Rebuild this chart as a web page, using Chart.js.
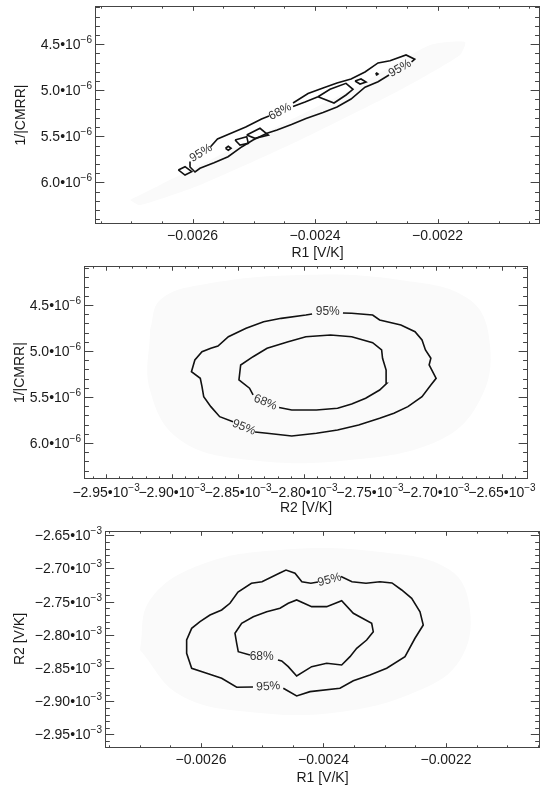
<!DOCTYPE html>
<html>
<head>
<meta charset="utf-8">
<script src="https://cdn.jsdelivr.net/npm/chart.js@4.4.0/dist/chart.umd.min.js"></script>
<style>
  body { margin: 0; background: #fff; }
  .panel { position: absolute; left: 0; width: 550px; }
</style>
</head>
<body>
<div class="panel" style="top:0px"><canvas id="chart1" width="550" height="262"></canvas></div>
<div class="panel" style="top:262px"><canvas id="chart2" width="550" height="258"></canvas></div>
<div class="panel" style="top:520px"><canvas id="chart3" width="550" height="267"></canvas></div>
<script>
// units: R1, R2 in 1e-3 V/K, 1/|CMRR| in 1e-6
const r1Ticks = [-2.6, -2.4, -2.2];
const r2Ticks = [-2.95, -2.90, -2.85, -2.80, -2.75, -2.70, -2.65];
const cmrrTicks = [4.5, 5.0, 5.5, 6.0];

// ---- panel 1 : 1/|CMRR| vs R1 ----
const p1UpperLeftX = [-2.5706, -2.5592, -2.5362, -2.5131, -2.4873, -2.4751];
const p1UpperLeftY = [5.613, 5.529, 5.464, 5.399, 5.312, 5.279];
const p1UpperRightX = [-2.4359, -2.4114, -2.3869, -2.3641, -2.3412, -2.3184, -2.2971, -2.2776, -2.2514, -2.2372, -2.2424];
const p1UpperRightY = [5.138, 5.035, 4.975, 4.921, 4.877, 4.801, 4.703, 4.678, 4.616, 4.663, 4.692];
const p1InnerTopX = [-2.4359, -2.4163, -2.3951];
const p1InnerTopY = [5.176, 5.127, 5.070];
const p1LowerX = [-2.2792, -2.2971, -2.3184, -2.3412, -2.3641, -2.3869, -2.4147, -2.4384, -2.4620, -2.4784, -2.5012, -2.5192, -2.5420, -2.5649, -2.5878, -2.5959, -2.6041, -2.6041];
const p1LowerY = [4.834, 4.907, 4.967, 5.095, 5.182, 5.241, 5.307, 5.372, 5.432, 5.467, 5.540, 5.613, 5.722, 5.787, 5.848, 5.888, 5.834, 5.774];
const p1InnerX = [-2.3951, -2.3755, -2.3494, -2.3380, -2.3494, -2.3690, -2.3951];
const p1InnerY = [5.070, 4.989, 4.924, 4.989, 5.051, 5.138, 5.070];
const p1IslandAX = [-2.5115, -2.4898, -2.4762, -2.4980, -2.5115];
const p1IslandAY = [5.486, 5.413, 5.486, 5.522, 5.486];
const p1IslandBX = [-2.5306, -2.5115, -2.5089, -2.5225, -2.5306];
const p1IslandBY = [5.540, 5.504, 5.576, 5.595, 5.540];
const p1IslandCX = [-2.5461, -2.5416, -2.5371, -2.5416, -2.5461];
const p1IslandCY = [5.630, 5.609, 5.630, 5.652, 5.630];
const p1IslandDX = [-2.6232, -2.6122, -2.6013, -2.6122, -2.6232];
const p1IslandDY = [5.866, 5.830, 5.885, 5.921, 5.866];
const p1IslandEX = [-2.3347, -2.3249, -2.3167, -2.3265, -2.3347];
const p1IslandEY = [4.899, 4.877, 4.910, 4.932, 4.899];
const p1IslandFX = [-2.3012, -2.2993, -2.2971, -2.2993, -2.3012];
const p1IslandFY = [4.823, 4.812, 4.823, 4.834, 4.823];
const p1HazeX = [-2.7020, -2.6531, -2.5061, -2.3429, -2.2122, -2.1551, -2.1633, -2.2612, -2.4245, -2.5878, -2.6857];
const p1HazeY = [6.192, 6.029, 5.540, 4.997, 4.508, 4.475, 4.616, 4.997, 5.540, 6.029, 6.247];
const p1LabelText = ['95%', '68%', '95%'];
const p1LabelX = [-2.5861, -2.4571, -2.2612];
const p1LabelY = [5.682, 5.233, 4.763];
const p1LabelAngle = [-32, -28, -30];

// ---- panel 2 : 1/|CMRR| vs R2 ----
const p2OuterAX = [-2.7705, -2.7639, -2.7480, -2.7427, -2.7266, -2.7159, -2.7106, -2.7080, -2.7039, -2.7052, -2.6999, -2.7039, -2.7106, -2.7213, -2.7319, -2.7427, -2.7586, -2.7746, -2.7906, -2.8093, -2.8280, -2.8371];
const p2OuterAY = [4.587, 4.590, 4.609, 4.663, 4.717, 4.790, 4.880, 4.989, 5.079, 5.152, 5.297, 5.370, 5.497, 5.605, 5.677, 5.732, 5.804, 5.859, 5.895, 5.924, 5.895, 5.880];
const p2OuterBX = [-2.8538, -2.8639, -2.8706, -2.8760, -2.8773, -2.8786, -2.8853, -2.8827, -2.8773, -2.8706, -2.8652, -2.8573, -2.8439, -2.8306, -2.8173, -2.7986, -2.7939];
const p2OuterBY = [5.769, 5.714, 5.605, 5.497, 5.388, 5.297, 5.225, 5.098, 5.008, 4.971, 4.946, 4.845, 4.753, 4.682, 4.645, 4.609, 4.598];
const p2InnerX = [-2.8189, -2.8093, -2.7906, -2.7746, -2.7639, -2.7533, -2.7427, -2.7373, -2.7378, -2.7405, -2.7412, -2.7480, -2.7639, -2.7799, -2.7986, -2.8120, -2.8280, -2.8386, -2.8480, -2.8493, -2.8413, -2.8386];
const p2InnerY = [5.614, 5.641, 5.641, 5.623, 5.576, 5.514, 5.424, 5.351, 5.207, 5.079, 4.989, 4.910, 4.845, 4.826, 4.845, 4.899, 4.971, 5.062, 5.152, 5.315, 5.405, 5.478];
const p2HazeX = [-2.9167, -2.9091, -2.8788, -2.8030, -2.7273, -2.6742, -2.6591, -2.6667, -2.6970, -2.7652, -2.8409, -2.8939, -2.9167];
const p2HazeY = [4.772, 4.446, 4.283, 4.174, 4.228, 4.446, 4.935, 5.533, 5.967, 6.185, 6.185, 5.967, 5.424];
const p2LabelText = ['95%', '95%', '68%'];
const p2LabelX = [-2.7820, -2.8455, -2.8293];
const p2LabelY = [4.573, 5.832, 5.560];
const p2LabelAngle = [0, 22, 22];

// ---- panel 3 : R2 vs R1 ----
const p3OuterAX = [-2.3714, -2.3535, -2.3306, -2.3078, -2.2882, -2.2723, -2.2560, -2.2424, -2.2371, -2.2506, -2.2669, -2.2968, -2.3241, -2.3513, -2.3731, -2.4220, -2.4438, -2.4656];
const p3OuterAY = [-2.7120, -2.7199, -2.7223, -2.7199, -2.7218, -2.7324, -2.7449, -2.7651, -2.7851, -2.8051, -2.8328, -2.8503, -2.8604, -2.8690, -2.8804, -2.8855, -2.8920, -2.8804];
const p3OuterBX = [-2.5151, -2.5417, -2.5662, -2.5907, -2.6152, -2.6234, -2.6234, -2.6152, -2.6016, -2.5853, -2.5662, -2.5527, -2.5396, -2.5176, -2.5004, -2.4722, -2.4612, -2.4465, -2.4353, -2.4206, -2.4090];
const p3OuterBY = [-2.8785, -2.8789, -2.8654, -2.8578, -2.8503, -2.8277, -2.8077, -2.7901, -2.7801, -2.7700, -2.7625, -2.7524, -2.7354, -2.7223, -2.7199, -2.7072, -2.7023, -2.7072, -2.7199, -2.7223, -2.7203];
const p3InnerX = [-2.4743, -2.4682, -2.4575, -2.4438, -2.4193, -2.3948, -2.3703, -2.3567, -2.3458, -2.3295, -2.3187, -2.3213, -2.3513, -2.3703, -2.3948, -2.4193, -2.4438, -2.4575, -2.4710, -2.4927, -2.5146, -2.5336, -2.5445, -2.5417, -2.5391, -2.5200];
const p3InnerY = [-2.8378, -2.8393, -2.8479, -2.8619, -2.8479, -2.8428, -2.8453, -2.8328, -2.8202, -2.8077, -2.7952, -2.7825, -2.7675, -2.7485, -2.7575, -2.7575, -2.7474, -2.7524, -2.7599, -2.7651, -2.7726, -2.7825, -2.7976, -2.8127, -2.8253, -2.8303];
const p3HazeX = [-2.6996, -2.6833, -2.6016, -2.4710, -2.3078, -2.1935, -2.1608, -2.1771, -2.2424, -2.3731, -2.5200, -2.6343];
const p3HazeY = [-2.8227, -2.7474, -2.6947, -2.6721, -2.6752, -2.7023, -2.7625, -2.8378, -2.8830, -2.9161, -2.9161, -2.8905];
const p3LabelText = ['95%', '95%', '68%'];
const p3LabelX = [-2.3902, -2.4901, -2.5009];
const p3LabelY = [-2.7173, -2.8777, -2.8328];
const p3LabelAngle = [-15, -4, 0];

const FONT = "'Liberation Sans', Arial, Helvetica, sans-serif";

function pts(xs, ys) { return xs.map((x, i) => ({ x: x, y: ys[i] })); }

function contour(xs, ys) {
  return { data: pts(xs, ys), showLine: true, borderColor: '#111', borderWidth: 1.6,
           pointRadius: 0, fill: false, tension: 0 };
}
function haze(xs, ys, tension) {
  return { data: pts(xs.concat(xs[0]), ys.concat(ys[0])), showLine: true, borderWidth: 0,
           borderColor: 'rgba(0,0,0,0)', backgroundColor: '#fafafa', pointRadius: 0,
           fill: 'shape', tension: tension, order: 5 };
}

function r1Label(v) { return '\u2212' + (Math.abs(v) / 1000).toFixed(4); }
function cmrrLabel(v) { return [v.toFixed(1) + '\u202210', '\u22126']; }
function r2Label(v) { return ['\u2212' + Math.abs(v).toFixed(2) + '\u202210', '\u22123']; }

function tickValues(min, max, step) {
  const out = [];
  for (let k = Math.ceil(min / step - 1e-6); k * step <= max + 1e-9; k++) out.push(k * step);
  return out;
}
function isMajor(v, majors) { return majors.some(m => Math.abs(m - v) < 1e-6); }

function expLabel(ctx, parts, x, y, align) {
  ctx.font = '14px ' + FONT;
  const wb = ctx.measureText(parts[0]).width;
  ctx.font = '10px ' + FONT;
  const we = ctx.measureText(parts[1]).width;
  const x0 = align === 'right' ? x - wb - we : x - (wb + we) / 2;
  ctx.textAlign = 'left';
  ctx.textBaseline = 'alphabetic';
  ctx.font = '14px ' + FONT;
  ctx.fillText(parts[0], x0, y);
  ctx.font = '10px ' + FONT;
  ctx.fillText(parts[1], x0 + wb, y - 6);
}

// box, inward ticks on all four sides, contour labels, exponent tick labels
const framePlugin = {
  id: 'frame',
  afterDatasetsDraw(chart, args, o) {
    const ctx = chart.ctx, a = chart.chartArea;
    const sx = chart.scales.x, sy = chart.scales.y;
    const L = Math.round(a.left) + 0.5, R = Math.round(a.right) - 0.5;
    const T = Math.round(a.top) + 0.5, B = Math.round(a.bottom) - 0.5;
    ctx.save();
    ctx.strokeStyle = '#444';
    ctx.lineWidth = 1;
    ctx.beginPath();
    const xLen = (B - T) * 0.02, yLen = (R - L) * 0.02;
    tickValues(sx.min, sx.max, o.xStep).forEach(v => {
      const p = Math.round(sx.getPixelForValue(v)) + 0.5;
      const len = isMajor(v, o.xMajor) ? xLen : xLen / 2;
      ctx.moveTo(p, B); ctx.lineTo(p, B - len);
      ctx.moveTo(p, T); ctx.lineTo(p, T + len);
    });
    tickValues(sy.min, sy.max, o.yStep).forEach(v => {
      const p = Math.round(sy.getPixelForValue(v)) + 0.5;
      const len = isMajor(v, o.yMajor) ? yLen : yLen / 2;
      ctx.moveTo(L, p); ctx.lineTo(L + len, p);
      ctx.moveTo(R, p); ctx.lineTo(R - len, p);
    });
    ctx.stroke();
    ctx.strokeRect(L, T, R - L, B - T);

    // contour level labels
    ctx.fillStyle = '#333';
    ctx.font = '12px ' + FONT;
    ctx.textAlign = 'center';
    ctx.textBaseline = 'middle';
    o.labels.text.forEach((t, i) => {
      ctx.save();
      ctx.translate(sx.getPixelForValue(o.labels.x[i]), sy.getPixelForValue(o.labels.y[i]));
      ctx.rotate(o.labels.angle[i] * Math.PI / 180);
      ctx.fillText(t, 0, 0);
      ctx.restore();
    });

    // tick labels with powers of ten
    ctx.fillStyle = '#1a1a1a';
    if (o.yFmt) o.yMajor.forEach(v => expLabel(ctx, o.yFmt(v), a.left - 3, sy.getPixelForValue(v) + 5, 'right'));
    if (o.xFmt) o.xMajor.forEach(v => expLabel(ctx, o.xFmt(v), sx.getPixelForValue(v), a.bottom + 18, 'center'));
    ctx.restore();
  }
};

function makePanel(id, c) {
  const ctx = document.getElementById(id).getContext('2d');
  return new Chart(ctx, {
    type: 'scatter',
    data: { datasets: c.datasets },
    options: {
      responsive: false,
      animation: false,
      devicePixelRatio: 1,
      layout: { padding: c.padding },
      plugins: {
        legend: { display: false },
        tooltip: { enabled: false },
        frame: { xMajor: c.xTicks, xStep: c.xStep, yMajor: c.yTicks, yStep: c.yStep,
                 xFmt: c.xFmt, yFmt: c.yFmt, labels: c.labels }
      },
      scales: {
        x: {
          type: 'linear', min: c.xMin, max: c.xMax,
          afterBuildTicks: s => { s.ticks = c.xTicks.map(v => ({ value: v })); },
          afterFit: s => { s.height = c.xHeight; },
          grid: { display: false, drawTicks: false },
          border: { display: false },
          ticks: { display: !c.xFmt, padding: 4, color: '#1a1a1a', font: { family: FONT, size: 14 },
                   maxRotation: 0, callback: v => r1Label(v) },
          title: { display: true, text: c.xTitle, color: '#1a1a1a', font: { family: FONT, size: 14 },
                   padding: { top: 0, bottom: c.xTitlePad } }
        },
        y: {
          type: 'linear', min: c.yMin, max: c.yMax, reverse: c.reverseY,
          afterBuildTicks: s => { s.ticks = c.yTicks.map(v => ({ value: v })); },
          afterFit: s => { s.width = c.yWidth; },
          grid: { display: false, drawTicks: false },
          border: { display: false },
          ticks: { display: false },
          title: { display: true, text: c.yTitle, color: '#1a1a1a', font: { family: FONT, size: 14 },
                   padding: { top: c.yTitlePad, bottom: 0 } }
        }
      }
    },
    plugins: [framePlugin]
  });
}

makePanel('chart1', {
  datasets: [
    contour(p1UpperLeftX, p1UpperLeftY), contour(p1UpperRightX, p1UpperRightY),
    contour(p1InnerTopX, p1InnerTopY), contour(p1LowerX, p1LowerY), contour(p1InnerX, p1InnerY),
    contour(p1IslandAX, p1IslandAY), contour(p1IslandBX, p1IslandBY), contour(p1IslandCX, p1IslandCY),
    contour(p1IslandDX, p1IslandDY), contour(p1IslandEX, p1IslandEY), contour(p1IslandFX, p1IslandFY),
    haze(p1HazeX, p1HazeY, 0.2)
  ],
  xMin: -2.7592, xMax: -2.0327, yMin: 4.084, yMax: 6.453, reverseY: true,
  xTicks: r1Ticks, xStep: 0.05, yTicks: cmrrTicks, yStep: 0.1,
  xFmt: null, yFmt: cmrrLabel,
  xTitle: 'R1 [V/K]', yTitle: '1/|CMRR|',
  padding: { left: 0, right: 10, top: 6, bottom: 0 }, yWidth: 95, xHeight: 38,
  xTitlePad: 0, yTitlePad: 13,
  labels: { text: p1LabelText, x: p1LabelX, y: p1LabelY, angle: p1LabelAngle }
});

makePanel('chart2', {
  datasets: [
    contour(p2OuterAX, p2OuterAY), contour(p2OuterBX, p2OuterBY), contour(p2InnerX, p2InnerY),
    haze(p2HazeX, p2HazeY, 0.4)
  ],
  xMin: -2.9667, xMax: -2.6303, yMin: 4.076, yMax: 6.395, reverseY: true,
  xTicks: r2Ticks, xStep: 0.01, yTicks: cmrrTicks, yStep: 0.1,
  xFmt: r2Label, yFmt: cmrrLabel,
  xTitle: 'R2 [V/K]', yTitle: '1/|CMRR|',
  padding: { left: 0, right: 22, top: 4, bottom: 0 }, yWidth: 84, xHeight: 40.7,
  xTitlePad: 3.6, yTitlePad: 12,
  labels: { text: p2LabelText, x: p2LabelX, y: p2LabelY, angle: p2LabelAngle }
});

makePanel('chart3', {
  datasets: [
    contour(p3OuterAX, p3OuterAY), contour(p3OuterBX, p3OuterBY), contour(p3InnerX, p3InnerY),
    haze(p3HazeX, p3HazeY, 0.4)
  ],
  xMin: -2.7567, xMax: -2.0465, yMin: -2.9696, yMax: -2.6428, reverseY: false,
  xTicks: r1Ticks, xStep: 0.05, yTicks: r2Ticks, yStep: 0.01,
  xFmt: null, yFmt: r2Label,
  xTitle: 'R1 [V/K]', yTitle: 'R2 [V/K]',
  padding: { left: 0, right: 10, top: 10.5, bottom: 0 }, yWidth: 105, xHeight: 39.5,
  xTitlePad: 0.3, yTitlePad: 11.6,
  labels: { text: p3LabelText, x: p3LabelX, y: p3LabelY, angle: p3LabelAngle }
});
</script>
</body>
</html>
